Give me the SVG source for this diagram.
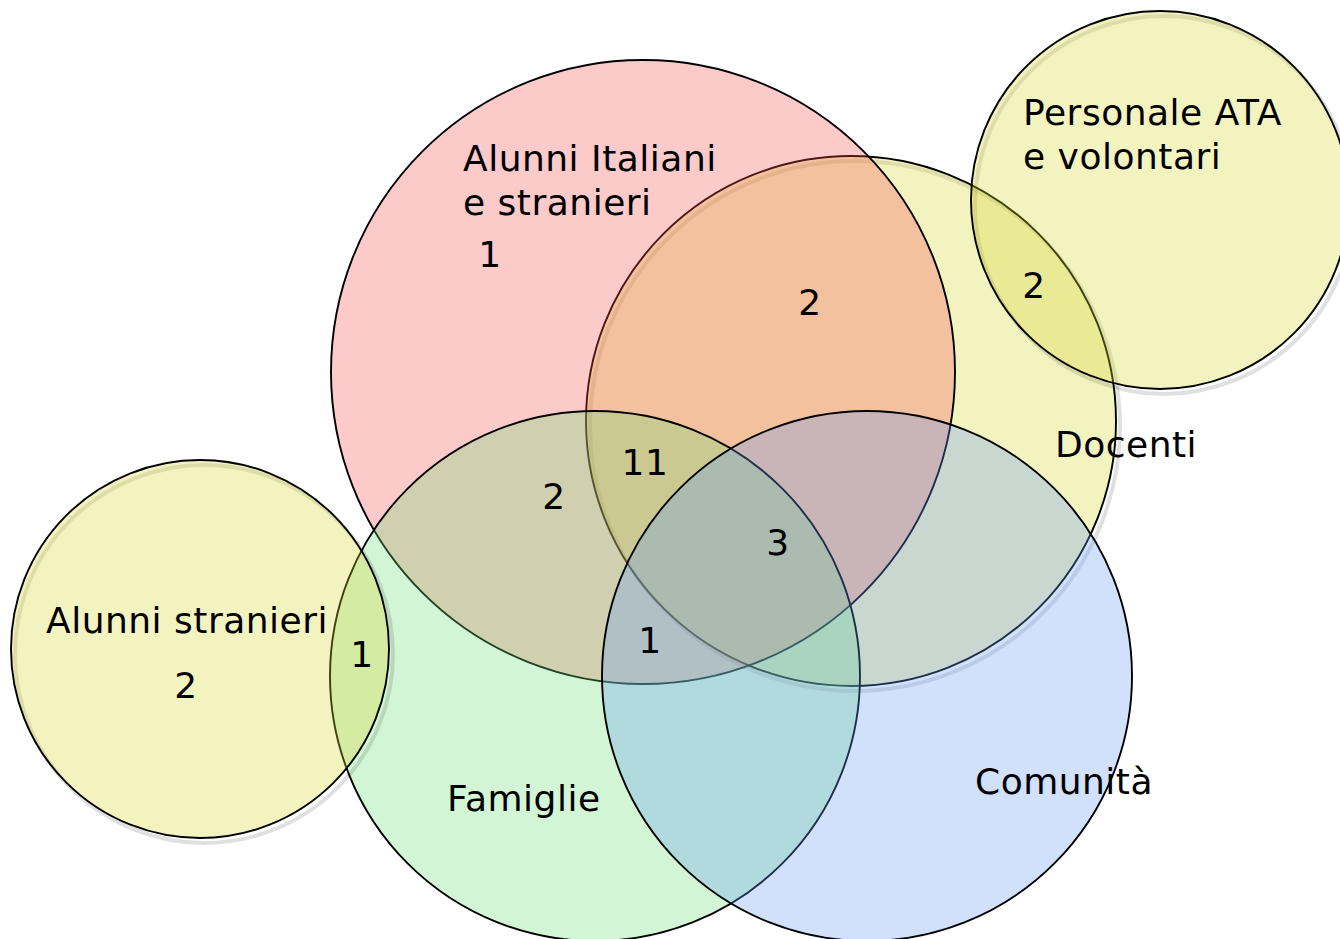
<svg xmlns="http://www.w3.org/2000/svg" width="1340" height="939" viewBox="0 0 1340 939">
<style>
.c{stroke:#000;stroke-width:1.9;fill-opacity:0.3}
.sh{fill:none;stroke:#000;stroke-width:4;stroke-opacity:0.12}
.pink{fill:#f84e4e}
.yel{fill:#d7d730}
.grn{fill:#69de73}
.blu{fill:#669bf5}
text{font-family:"DejaVu Sans","Verdana",sans-serif;font-size:36px;letter-spacing:0.5px;fill:#000}
.m{text-anchor:middle}
</style>
<rect width="1340" height="939" fill="#fff"/>
<g id="docenti">
<circle class="sh" cx="855" cy="426" r="265"/>
<circle class="c yel" cx="851" cy="421" r="265"/>
</g>
<g id="alunni-italiani">
<circle class="c pink" cx="643" cy="372" r="312"/>
</g>
<g id="famiglie">
<circle class="c grn" cx="595" cy="676" r="265"/>
</g>
<g id="comunita">
<circle class="c blu" cx="867" cy="676" r="265"/>
</g>
<g id="alunni-stranieri">
<circle class="sh" cx="204" cy="654" r="189"/>
<circle class="c yel" cx="200" cy="649" r="189"/>
</g>
<g id="personale-ata">
<circle class="sh" cx="1164" cy="205" r="189"/>
<circle class="c yel" cx="1160" cy="200" r="189"/>
</g>
<g id="connectors"/>
<g id="labels">
<text x="463" y="171">Alunni Italiani</text>
<text x="463" y="215">e stranieri</text>
<text class="m" x="490" y="267">1</text>
<text x="1023" y="125">Personale ATA</text>
<text x="1023" y="169">e volontari</text>
<text class="m" x="1034" y="298">2</text>
<text class="m" x="810" y="315">2</text>
<text x="1055" y="457">Docenti</text>
<text class="m" x="645" y="475">11</text>
<text class="m" x="554" y="509">2</text>
<text class="m" x="778" y="555">3</text>
<text class="m" x="650" y="653">1</text>
<text x="46" y="633">Alunni stranieri</text>
<text class="m" x="186" y="698">2</text>
<text class="m" x="362" y="667">1</text>
<text x="447" y="811">Famiglie</text>
<text x="975" y="794">Comunità</text>
</g>
</svg>
